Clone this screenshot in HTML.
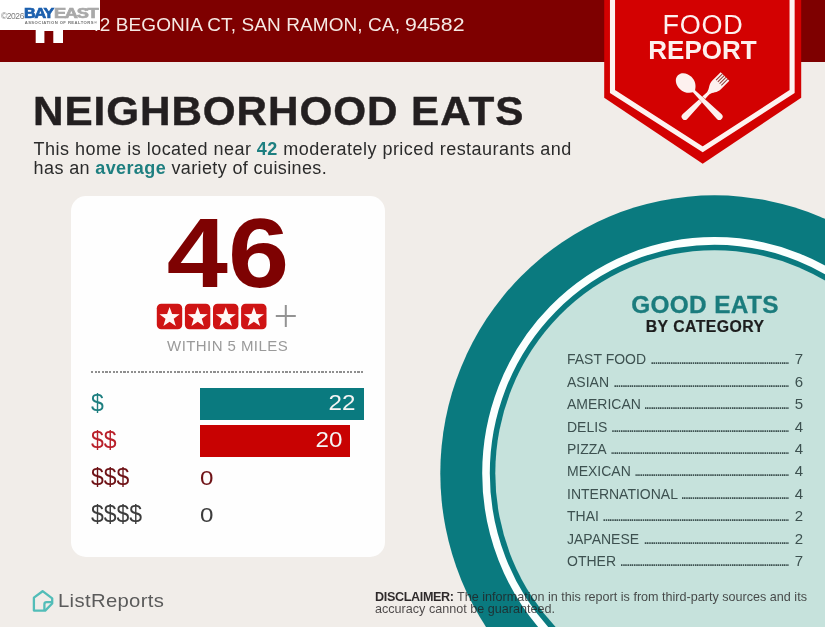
<!DOCTYPE html>
<html><head><meta charset="utf-8"><title>Food Report</title>
<style>
*{box-sizing:border-box;margin:0;padding:0}
html,body{width:825px;height:627px;overflow:hidden;background:#f1ede9}
body{font-family:"Liberation Sans",sans-serif;position:relative;color:#231f20}
.abs{position:absolute;white-space:nowrap;line-height:1}
#hdr{left:0;top:0;width:825px;height:62px;background:#7e0000}
#addr{left:89.1px;top:14.9px;font-size:19px;color:#f6e9e4;letter-spacing:0.09px}
#addr span{display:inline-block;transform:scaleX(1.12);transform-origin:0 50%}
#house{left:30px;top:8px}
#wm{left:0;top:0;width:100px;height:29.5px;background:#fff;overflow:hidden}
#copy{left:1px;top:12.2px;font-size:8.5px;color:#7c7c7c;letter-spacing:-0.45px}
#bay,#east{top:6.6px;font-size:13.8px;font-weight:bold;transform-origin:0 0;-webkit-text-stroke:0.7px currentColor;letter-spacing:-1.0px}
#bay{left:23.8px;color:#1b5fae;transform:scaleX(1.17)}
#east{left:53.9px;color:#a9a9a9;transform:scaleX(1.32)}
#assoc{left:24.7px;top:20.6px;font-size:4.2px;font-weight:bold;color:#727272;letter-spacing:0.42px}
#banner{left:596px;top:0}
#food{left:603px;width:200px;text-align:center;top:12.3px;font-size:27px;color:#fdf0ee;letter-spacing:0.7px}
#report{left:602.5px;width:200px;text-align:center;top:37.4px;font-size:26px;font-weight:bold;color:#fdf0ee}
#title{left:33.3px;top:91px;font-size:41px;font-weight:bold;color:#231f20;transform-origin:0 0;transform:scaleX(1.03);letter-spacing:0.9px;-webkit-text-stroke:0.45px #231f20}
#p1,#p2{left:33.6px;font-size:18px;color:#2b2b2b;letter-spacing:0.466px}
#p2{letter-spacing:0.38px}
#p1{top:140px}#p2{top:159px}
.tl{color:#1e7f80;font-weight:bold}
#card{left:70.5px;top:195.5px;width:314px;height:361.5px;background:#fefefe;border-radius:15px}
#big{left:128.1px;width:200px;text-align:center;top:203.5px;font-size:98px;font-weight:bold;color:#7e0202;transform-origin:50% 0;transform:scaleX(1.122)}
#stars{left:150px;top:298px}
#within{left:127.6px;width:200px;text-align:center;top:338px;font-size:15px;color:#9a9a9a;letter-spacing:0.43px}
#dash{left:91px;top:370.6px;width:273px;height:2px;background:repeating-linear-gradient(90deg,#8f8f8f 0,#8f8f8f 2.3px,rgba(143,143,143,0) 2.3px,rgba(143,143,143,0) 3.6px)}
.lab{left:91px;font-size:23px}
.bar{left:200px;height:32px;color:#f4f4f4;font-size:22px;text-align:right;line-height:30px}
.zero{left:200.2px;font-size:21px;transform:scaleX(1.15);transform-origin:0 0}
.bar span{display:inline-block;transform:scaleX(1.1);transform-origin:100% 50%}
#circ{left:0;top:0}
#ge{left:605px;width:200px;text-align:center;top:292.8px;font-size:24.4px;font-weight:bold;color:#1b7c7d;letter-spacing:0.35px;-webkit-text-stroke:0.3px #1b7c7d}
#bc{left:605.2px;width:200px;text-align:center;top:319.4px;font-size:15.8px;font-weight:bold;color:#1d1d1d;letter-spacing:0.46px;-webkit-text-stroke:0.2px #1d1d1d}
.row{left:567px;width:236px;height:22px;display:flex;align-items:baseline;font-size:14px;color:#3d5150;line-height:22px}
.row i{flex:1;min-width:0;overflow:hidden;white-space:nowrap;font-style:normal;font-size:16px;letter-spacing:-2.27px;direction:rtl;margin:0 5.5px 0 4.5px;height:22px;line-height:22px}
.row b{font-weight:normal;font-size:15px}
#lr{left:57.9px;top:592.2px;font-size:18.5px;color:#5b5b5b;letter-spacing:0.3px;transform:scaleX(1.097);transform-origin:0 0}
#lricon{left:30px;top:587px}
#d1,#d2{left:375px;font-size:12.6px;color:rgba(35,31,32,0.8)}
#d1{top:590.5px}#d2{top:603px}
#d1 b{color:rgba(35,31,32,0.95);letter-spacing:-0.35px}
</style></head><body>
<div class="abs" id="hdr"></div>
<svg class="abs" id="circ" width="825" height="627" viewBox="0 0 825 627">
  <ellipse cx="714.5" cy="473.3" rx="274.2" ry="278" fill="#0a7a7f"/>
  <ellipse cx="714.5" cy="473.3" rx="228.5" ry="232.4" fill="none" stroke="#fbfffe" stroke-width="7.6"/>
  <ellipse cx="714.5" cy="473.3" rx="219.2" ry="223.1" fill="#c6e2dc"/>
</svg>
<svg class="abs" id="house" width="40" height="40" viewBox="0 0 40 40">
  <path d="M5.7 35V18L19.5 6L33 18V35H23.3V23H14.4V35Z" fill="#fff"/>
</svg>
<div class="abs" id="addr">42 BEGONIA CT, SAN RAMON, CA, <span>94582</span></div>
<div class="abs" id="wm">
<div class="abs" id="copy">©2026</div>
<div class="abs" id="bay">BAY</div><div class="abs" id="east">EAST</div>
<div class="abs" id="assoc">ASSOCIATION OF REALTORS®</div>
</div>

<svg class="abs" id="banner" width="215" height="175" viewBox="596 0 215 175">
  <path d="M604.2 0H801.2V97.7L702.7 163.8L604.2 97.7Z" fill="#d30101"/>
  <path d="M612.5 0V91.5L702.7 149.3L792.1 91.5V0" fill="none" stroke="#fdf3f0" stroke-width="5.1"/>
  <g fill="#fdf1ef">
    <g transform="translate(702.1 99.4) rotate(45)">
      <path d="M-6.1 -32.4 H6.1 V-20.5 C6.1 -15 2.2 -13 1.5 -8.5 L3.3 24.3 A3.3 3.3 0 0 1 -3.3 24.3 L-1.5 -8.5 C-2.2 -13 -6.1 -15 -6.1 -20.5 Z"/>
      <path d="M-3.7 -32.4V-23.5 M-1.25 -32.4V-23.5 M1.25 -32.4V-23.5 M3.7 -32.4V-23.5" stroke="#8e3b36" stroke-width="1" fill="none"/>
    </g>
    <g transform="translate(702.1 99.4) rotate(-45)" stroke="#c41a14" stroke-width="0.7" paint-order="stroke">
      <path d="M0 -34.2 C5 -34.2 8.4 -29 8.4 -23.5 C8.4 -17.5 5 -13.5 1.5 -11.5 L3.3 24.3 A3.3 3.3 0 0 1 -3.3 24.3 L-1.5 -11.5 C-5 -13.5 -8.4 -17.5 -8.4 -23.5 C-8.4 -29 -5 -34.2 0 -34.2 Z"/>
    </g>
  </g>
</svg>
<div class="abs" id="food">FOOD</div>
<div class="abs" id="report">REPORT</div>

<div class="abs" id="title">NEIGHBORHOOD EATS</div>
<div class="abs" id="p1">This home is located near <span class="tl">42</span> moderately priced restaurants and</div>
<div class="abs" id="p2">has an <span class="tl">average</span> variety of cuisines.</div>

<div class="abs" id="card"></div>
<div class="abs" id="big">46</div>
<svg class="abs" id="stars" width="160" height="40" viewBox="150 298 160 40">
  <rect x="156.8" y="303.8" width="25.4" height="25.4" rx="4.5" fill="#cf1414"/>
  <path transform="translate(156.8 303.8)" d="M12.8 3.1L15.3 10.2L22.9 10.4L16.9 15.0L19.0 22.2L12.8 18.0L6.6 22.2L8.7 15.0L2.7 10.4L10.3 10.2Z" fill="#fff7f5"/>
  <rect x="184.9" y="303.8" width="25.4" height="25.4" rx="4.5" fill="#cf1414"/>
  <path transform="translate(184.9 303.8)" d="M12.8 3.1L15.3 10.2L22.9 10.4L16.9 15.0L19.0 22.2L12.8 18.0L6.6 22.2L8.7 15.0L2.7 10.4L10.3 10.2Z" fill="#fff7f5"/>
  <rect x="213.0" y="303.8" width="25.4" height="25.4" rx="4.5" fill="#cf1414"/>
  <path transform="translate(213.0 303.8)" d="M12.8 3.1L15.3 10.2L22.9 10.4L16.9 15.0L19.0 22.2L12.8 18.0L6.6 22.2L8.7 15.0L2.7 10.4L10.3 10.2Z" fill="#fff7f5"/>
  <rect x="241.1" y="303.8" width="25.4" height="25.4" rx="4.5" fill="#cf1414"/>
  <path transform="translate(241.1 303.8)" d="M12.8 3.1L15.3 10.2L22.9 10.4L16.9 15.0L19.0 22.2L12.8 18.0L6.6 22.2L8.7 15.0L2.7 10.4L10.3 10.2Z" fill="#fff7f5"/>
  <path d="M275.8 316H295.8M285.8 305V327" stroke="#939393" stroke-width="2" fill="none"/>
</svg>
<div class="abs" id="within">WITHIN 5 MILES</div>
<div class="abs" id="dash"></div>

<div class="abs lab" style="top:391.5px;color:#1e7f80">$</div>
<div class="abs bar" style="top:388px;width:163.5px;background:#0a7a7f;padding-right:7.8px"><span>22</span></div>
<div class="abs lab" style="top:428.5px;color:#b9202a">$$</div>
<div class="abs bar" style="top:425px;width:150.3px;background:#c80202;padding-right:7.8px"><span>20</span></div>
<div class="abs lab" style="top:465.5px;color:#6e1216">$$$</div>
<div class="abs zero" style="top:466.5px;color:#6e1216">0</div>
<div class="abs lab" style="top:502.5px;color:#3c3c3c">$$$$</div>
<div class="abs zero" style="top:503.5px;color:#3c3c3c">0</div>

<div class="abs" id="ge">GOOD EATS</div>
<div class="abs" id="bc">BY CATEGORY</div>
<div class="abs row" style="top:348px"><span>FAST FOOD</span><i>....................................................................................................</i><b>7</b></div>
<div class="abs row" style="top:371.1px"><span>ASIAN</span><i>....................................................................................................</i><b>6</b></div>
<div class="abs row" style="top:392.9px"><span>AMERICAN</span><i>....................................................................................................</i><b>5</b></div>
<div class="abs row" style="top:416.1px"><span>DELIS</span><i>....................................................................................................</i><b>4</b></div>
<div class="abs row" style="top:437.8px"><span>PIZZA</span><i>....................................................................................................</i><b>4</b></div>
<div class="abs row" style="top:460.2px"><span>MEXICAN</span><i>....................................................................................................</i><b>4</b></div>
<div class="abs row" style="top:482.6px"><span>INTERNATIONAL</span><i>....................................................................................................</i><b>4</b></div>
<div class="abs row" style="top:505.1px"><span>THAI</span><i>....................................................................................................</i><b>2</b></div>
<div class="abs row" style="top:527.5px"><span>JAPANESE</span><i>....................................................................................................</i><b>2</b></div>
<div class="abs row" style="top:550px"><span>OTHER</span><i>....................................................................................................</i><b>7</b></div>

<svg class="abs" id="lricon" width="28" height="28" viewBox="30 587 28 28">
  <path d="M33.9 597.6L42.6 591.2L52.2 598.4V603.5L45.2 610.6H33.9Z" fill="none" stroke="#52bdb8" stroke-width="2.3" stroke-linejoin="round"/>
  <path d="M52.2 602.2H46.5Q44.4 602.2 44.4 604.3V610.6" fill="none" stroke="#52bdb8" stroke-width="2.3" stroke-linejoin="round"/>
</svg>
<div class="abs" id="lr">ListReports</div>
<div class="abs" id="d1"><b>DISCLAIMER:</b> The information in this report is from third-party sources and its</div>
<div class="abs" id="d2">accuracy cannot be guaranteed.</div>
</body></html>
